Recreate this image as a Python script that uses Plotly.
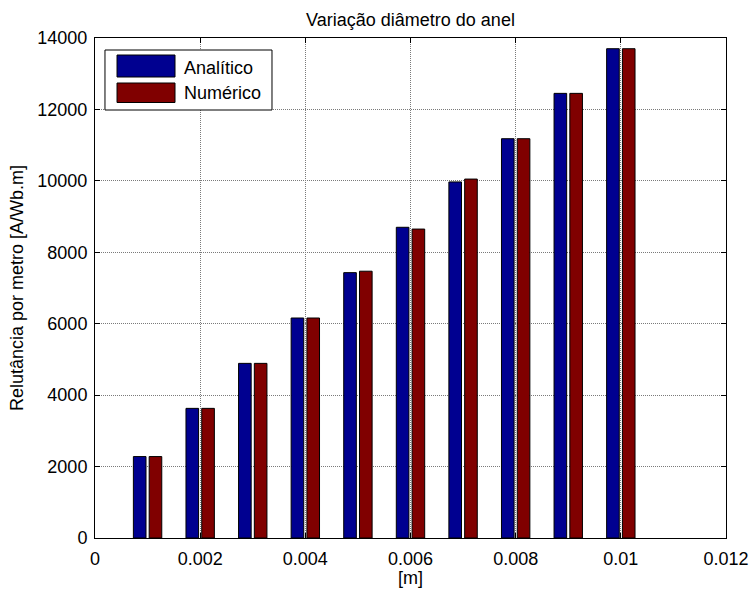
import plotly.graph_objects as go

# Ring diameter [m] and reluctance per metre [A/Wb.m]
diametro = [0.001, 0.002, 0.003, 0.004, 0.005, 0.006, 0.007, 0.008, 0.009, 0.010]
analitico = [2280, 3630, 4890, 6160, 7430, 8700, 9970, 11180, 12450, 13700]
numerico = [2280, 3630, 4890, 6160, 7470, 8650, 10050, 11180, 12450, 13700]

x_ticks = [0, 0.002, 0.004, 0.006, 0.008, 0.01, 0.012]
x_labels = ["0", "0.002", "0.004", "0.006", "0.008", "0.01", "0.012"]
y_ticks = [0, 2000, 4000, 6000, 8000, 10000, 12000, 14000]

serie_nomes = ["Analítico", "Numérico"]
serie_cores = ["#000090", "#800000"]

FONT = "Liberation Sans, Arial, sans-serif"
FS = 18

bar_w = 0.00024
fig = go.Figure()
for vals, nome, cor, off in [
    (analitico, serie_nomes[0], serie_cores[0], -0.00027),
    (numerico, serie_nomes[1], serie_cores[1], 0.00003),
]:
    fig.add_trace(go.Bar(
        x=diametro, y=vals, name=nome, width=bar_w, offset=off,
        marker=dict(color=cor, line=dict(color="black", width=1)),
        showlegend=False,
    ))

axis_common = dict(
    showline=True, linecolor="black", linewidth=1, mirror="allticks",
    ticks="inside", ticklen=5, tickcolor="black", tickwidth=1,
    showgrid=True, gridcolor="#7a7a7a", gridwidth=1, griddash="1px,1px",
    zeroline=False, tickfont=dict(family=FONT, size=FS, color="black"),
)

fig.update_xaxes(range=[0, 0.012], tickvals=x_ticks, ticktext=x_labels,
                 ticklabelstandoff=4, **axis_common)
fig.update_yaxes(range=[0, 14000], tickvals=y_ticks,
                 ticktext=[str(v) for v in y_ticks], ticklabelstandoff=3,
                 **axis_common)

# Boxed legend with large swatches, drawn in the upper-left corner of the axes
shapes = [
    dict(type="rect", xref="paper", yref="paper", x0=0.0158, x1=0.2805,
         y0=0.856, y1=0.976, line=dict(color="black", width=1),
         fillcolor="white", layer="above"),
]
annotations = []
rows = [(0.922, 0.966, 0.940), (0.871, 0.910, 0.890)]
for (y0, y1, yc), nome, cor in zip(rows, serie_nomes, serie_cores):
    shapes.append(dict(type="rect", xref="paper", yref="paper", x0=0.0349,
                       x1=0.1268, y0=y0, y1=y1, fillcolor=cor,
                       line=dict(color="black", width=1), layer="above"))
    annotations.append(dict(xref="paper", yref="paper", x=0.1379, y=yc,
                            xanchor="left", yanchor="middle", text=nome,
                            showarrow=False,
                            font=dict(family=FONT, size=FS, color="black")))

# Axis titles
annotations.append(dict(xref="paper", yref="paper", x=0.5, y=-40 / 500,
                        xanchor="center", yanchor="middle", text="[m]",
                        showarrow=False,
                        font=dict(family=FONT, size=FS, color="black")))
annotations.append(dict(xref="paper", yref="paper", x=-78 / 631, y=0.5,
                        xanchor="center", yanchor="middle",
                        text="Relutância por metro [A/Wb.m]", textangle=-90,
                        showarrow=False,
                        font=dict(family=FONT, size=FS, color="black")))

fig.update_layout(
    width=754, height=590,
    margin=dict(l=95, r=28, t=38, b=52, autoexpand=False),
    paper_bgcolor="white", plot_bgcolor="white",
    barmode="overlay",
    title=dict(text="Variação diâmetro do anel", x=0.5 + (410.5 - 377) / 754,
               xanchor="center", y=1 - 20 / 590, yanchor="middle",
               yref="container",
               font=dict(family=FONT, size=FS, color="black")),
    shapes=shapes, annotations=annotations,
)

fig.write_html("out.html")
